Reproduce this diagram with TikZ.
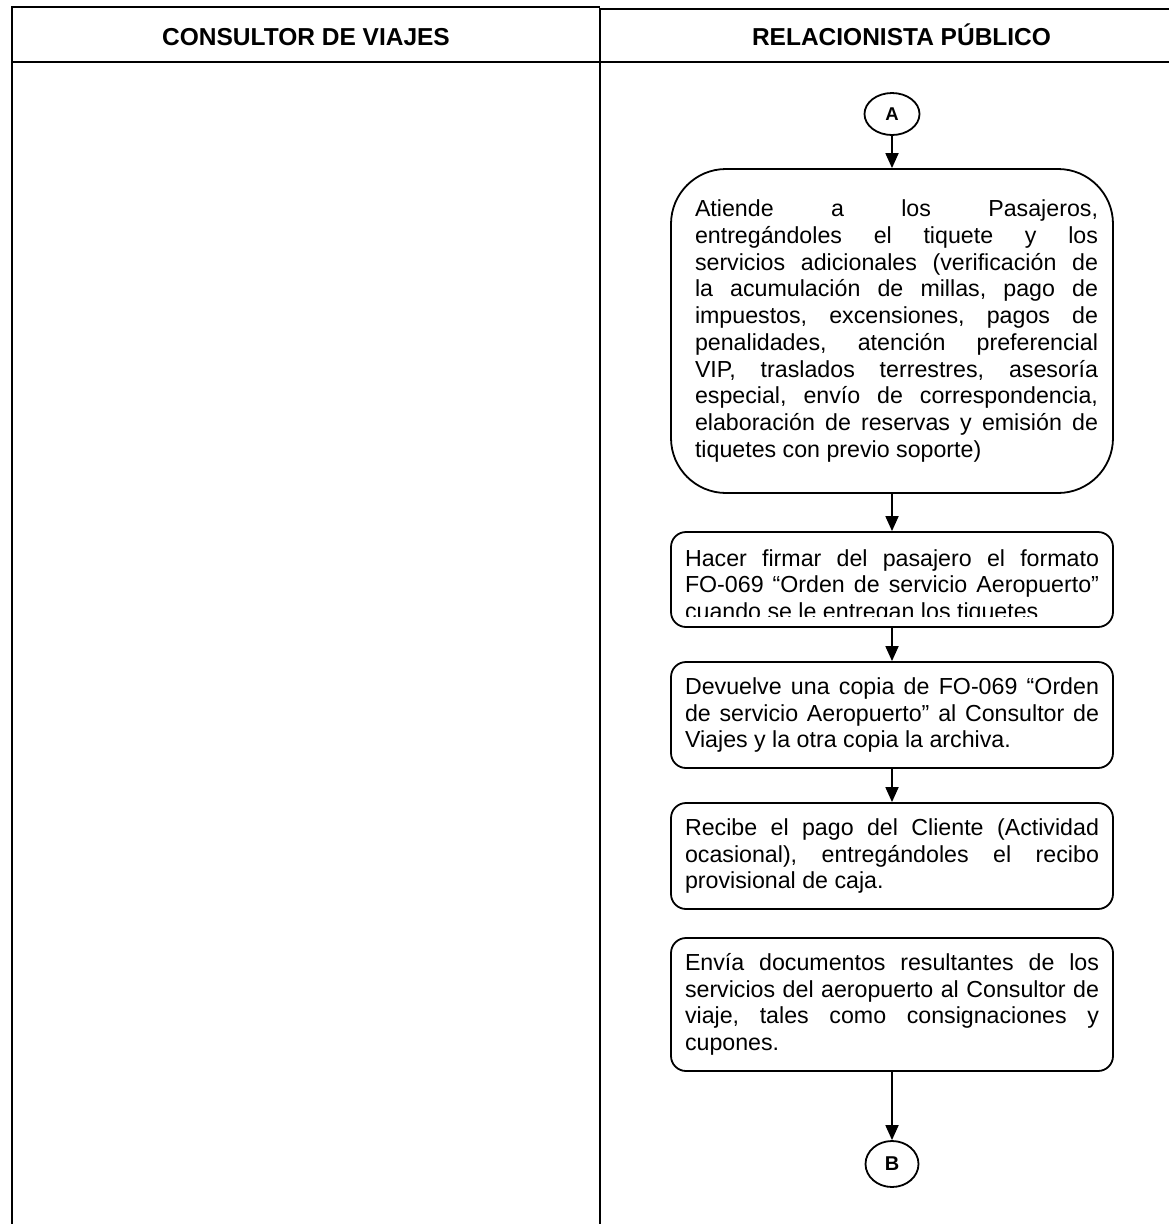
\documentclass[tikz,border=0pt]{standalone}
\usepackage{fontspec}
\setmainfont{Liberation Sans}
\usetikzlibrary{arrows.meta,shapes.geometric}
% justified text lines of fixed width \jw, each indented by \jk
\newlength\jw
\newlength\jk
\newcommand\jl[1]{\hbox to\jw{\kern\jk\frenchspacing\spaceskip=.278em plus 1fil\relax#1}}
\newcommand\jlast[1]{\hbox to\jw{\kern\jk#1\hfil}}
% an extra stretchable word space
\newcommand\xsp{\hskip.278em plus 1fil\relax}
\begin{document}
\begin{tikzpicture}[x=1pt,y=-1pt,
  grid/.style={line width=2.3pt},
  head/.style={font=\bfseries\fontsize{24.5}{28}\selectfont, anchor=base, inner sep=0pt},
  proc/.style={draw, line width=1.8pt, rounded corners=15pt, minimum width=442pt,
    inner xsep=14pt, inner ysep=0pt, font=\fontsize{23.2}{26.7}\selectfont},
  proctext/.style={inner sep=0pt, font=\fontsize{23.2}{26.7}\selectfont},
  conn/.style={draw, ellipse, line width=1.8pt, inner sep=0pt},
  flow/.style={line width=1.8pt, -{Triangle[length=15pt,width=13pt]}}
]
\useasboundingbox (0,0) rectangle (1169,1224);

% swimlane table
\draw[grid] (12,1224) -- (12,7) -- (600,7);
\draw[grid] (600,1224) -- (600,9) -- (1169,9);
\draw[grid] (12,62) -- (1169,62);
\node[head] (h1) at (306,45.5) {CONSULTOR DE VIAJES};
\node[head] (h2) at (901.5,45.5) {RELACIONISTA PÚBLICO};

% connectors
\node[conn, minimum width=55pt, minimum height=42pt,
  font=\bfseries\fontsize{18.5}{20}\selectfont] (A) at (892,114) {A};
\node[conn, minimum width=53pt, minimum height=46pt,
  font=\bfseries\fontsize{20}{22}\selectfont] (B) at (892,1164) {B};

% process steps
\node[proc, rounded corners=55pt, minimum height=324pt, inner xsep=15pt]
  (b1) at (892,331) {\setlength\jw{412pt}\setlength\jk{9pt}\vbox{%
  \jl{Atiende a los Pasajeros,}
  \jl{entregándoles el\xsp tiquete y los}
  \jl{servicios adicionales (verificación de}
  \jl{la acumulación de millas, pago de}
  \jl{impuestos, excensiones, pagos de}
  \jl{penalidades, atención preferencial}
  \jl{VIP, traslados terrestres, asesoría}
  \jl{especial, envío de correspondencia,}
  \jl{elaboración de reservas y emisión de}
  \jlast{tiquetes con previo soporte)}}};

\node[proc, minimum height=95pt] (b2) at (892,579.5) {};
\begin{scope}
  \clip (671,532) rectangle (1113,616);
  \node[proctext, anchor=north] (b2t) at (892,549) {\setlength\jw{414pt}\vbox{%
    \jl{Hacer firmar del pasajero el formato}
    \jl{FO-069 “Orden de servicio Aeropuerto”}
    \jlast{cuando se le entregan los tiquetes}}};
\end{scope}

\node[proc, minimum height=106pt] (b3) at (892,715) {\setlength\jw{414pt}\vbox{%
  \jl{Devuelve una copia de\xsp FO-069 “Orden}
  \jl{de servicio Aeropuerto” al Consultor de}
  \jlast{Viajes y la otra copia la archiva.}}};

\node[proc, minimum height=106pt] (b4) at (892,856) {\setlength\jw{414pt}\vbox{%
  \jl{Recibe el pago del Cliente (Actividad}
  \jl{ocasional), entregándoles el recibo}
  \jlast{provisional de caja.}}};

\node[proc, minimum height=133pt] (b5) at (892,1004.5) {\setlength\jw{414pt}\vbox{%
  \jl{Envía documentos resultantes de los}
  \jl{servicios del aeropuerto al Consultor de}
  \jl{viaje, tales como consignaciones y}
  \jlast{cupones.}}};

% flow arrows
\draw[flow] (A) -- (b1);
\draw[flow] (b1) -- (b2);
\draw[flow] (b2) -- (b3);
\draw[flow] (b3) -- (b4);
\draw[flow] (b5) -- (B);
\end{tikzpicture}
\end{document}
